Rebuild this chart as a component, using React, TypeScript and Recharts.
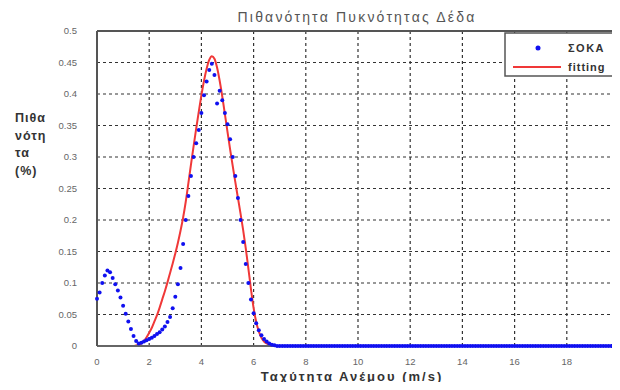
import React from 'react';
import { ComposedChart, Line, XAxis, YAxis, CartesianGrid, ReferenceLine } from 'recharts';

const title = 'Πιθανότητα Πυκνότητας Δέδα';
const xLabel = 'Ταχύτητα Ανέμου (m/s)';
const yLabelLines = ['Πιθα', 'νότη', 'τα', '(%)'];
const legendNames = ['ΣΟΚΑ', 'fitting'];

const xTicks = [0, 2, 4, 6, 8, 10, 12, 14, 16, 18, 20];
const yTicks = [0, 0.05, 0.1, 0.15, 0.2, 0.25, 0.3, 0.35, 0.4, 0.45, 0.5];

// measured wind-speed density, bins of 0.1 m/s from 0 to 20
const measured = [
  0.075, 0.085, 0.1, 0.112, 0.12, 0.117, 0.108, 0.098, 0.088, 0.077,
  0.064, 0.051, 0.039, 0.027, 0.016, 0.008, 0.004, 0.005, 0.007, 0.009,
  0.011, 0.013, 0.016, 0.019, 0.022, 0.026, 0.031, 0.038, 0.046, 0.06,
  0.078, 0.098, 0.124, 0.162, 0.2, 0.238, 0.27, 0.3, 0.322, 0.343,
  0.37, 0.398, 0.42, 0.438, 0.448, 0.43, 0.385, 0.405, 0.39, 0.37,
  0.352, 0.328, 0.3, 0.27, 0.235, 0.2, 0.165, 0.13, 0.1, 0.074,
  0.052, 0.036, 0.025, 0.017, 0.011, 0.007, 0.004, 0.002, 0.001, 0,
  0, 0, 0, 0, 0, 0, 0, 0, 0, 0,
  0, 0, 0, 0, 0, 0, 0, 0, 0, 0,
  0, 0, 0, 0, 0, 0, 0, 0, 0, 0,
  0, 0, 0, 0, 0, 0, 0, 0, 0, 0,
  0, 0, 0, 0, 0, 0, 0, 0, 0, 0,
  0, 0, 0, 0, 0, 0, 0, 0, 0, 0,
  0, 0, 0, 0, 0, 0, 0, 0, 0, 0,
  0, 0, 0, 0, 0, 0, 0, 0, 0, 0,
  0, 0, 0, 0, 0, 0, 0, 0, 0, 0,
  0, 0, 0, 0, 0, 0, 0, 0, 0, 0,
  0, 0, 0, 0, 0, 0, 0, 0, 0, 0,
  0, 0, 0, 0, 0, 0, 0, 0, 0, 0,
  0, 0, 0, 0, 0, 0, 0, 0, 0, 0,
  0,
];

// fitted density on the same bins
const fitted = [
  0, 0, 0, 0, 0, 0, 0, 0, 0, 0,
  0, 0, 0, 0, 0, 0.001, 0.002, 0.004, 0.008, 0.014,
  0.021, 0.029, 0.039, 0.049, 0.061, 0.074, 0.087, 0.101, 0.116, 0.131,
  0.147, 0.164, 0.183, 0.204, 0.229, 0.258, 0.288, 0.317, 0.345, 0.372,
  0.398, 0.421, 0.44, 0.454, 0.46, 0.456, 0.442, 0.421, 0.396, 0.368,
  0.34, 0.312, 0.286, 0.26, 0.235, 0.21, 0.184, 0.155, 0.123, 0.09,
  0.06, 0.038, 0.023, 0.013, 0.007, 0.004, 0.002, 0.001, 0, 0,
  0, 0, 0, 0, 0, 0, 0, 0, 0, 0,
  0, 0, 0, 0, 0, 0, 0, 0, 0, 0,
  0, 0, 0, 0, 0, 0, 0, 0, 0, 0,
  0, 0, 0, 0, 0, 0, 0, 0, 0, 0,
  0, 0, 0, 0, 0, 0, 0, 0, 0, 0,
  0, 0, 0, 0, 0, 0, 0, 0, 0, 0,
  0, 0, 0, 0, 0, 0, 0, 0, 0, 0,
  0, 0, 0, 0, 0, 0, 0, 0, 0, 0,
  0, 0, 0, 0, 0, 0, 0, 0, 0, 0,
  0, 0, 0, 0, 0, 0, 0, 0, 0, 0,
  0, 0, 0, 0, 0, 0, 0, 0, 0, 0,
  0, 0, 0, 0, 0, 0, 0, 0, 0, 0,
  0, 0, 0, 0, 0, 0, 0, 0, 0, 0,
  0,
];

const speeds = measured.map((_, i) => i / 10);
const data = speeds.map((x, i) => ({ x, measured: measured[i], fitted: fitted[i] }));

const FONT = '"Liberation Sans", Arial, Helvetica, sans-serif';
const BLUE = '#1010f0';
const RED = '#f03838';

export default function App() {
  return (
    <div style={{ margin: -8, width: 620, height: 390, overflow: 'hidden', position: 'relative', background: '#fff', fontFamily: FONT }}>
      <ComposedChart width={640} height={390} data={data} margin={{ top: 31, right: 21, bottom: 0, left: 0 }}>
        <CartesianGrid stroke="#333" strokeDasharray="3 3" strokeWidth={1.2} />
        <XAxis
          dataKey="x"
          type="number"
          domain={[0, 20]}
          ticks={xTicks}
          interval={0}
          height={44}
          tickLine={false}
          tickMargin={6}
          axisLine={{ stroke: '#666', strokeWidth: 2 }}
          tick={{ fontSize: 9.5, fill: '#666', fontFamily: FONT }}
        />
        <YAxis
          type="number"
          domain={[0, 0.5]}
          ticks={yTicks}
          interval={0}
          width={97}
          tickLine={false}
          tickMargin={14}
          axisLine={{ stroke: '#555', strokeWidth: 2 }}
          tick={{ fontSize: 9.5, fill: '#666', fontFamily: FONT }}
        />
        <ReferenceLine y={0.5} stroke="#555" strokeWidth={2} />
        <ReferenceLine x={20} stroke="#555" strokeWidth={2} />
        <Line
          dataKey="fitted"
          type="monotone"
          stroke={RED}
          strokeWidth={2}
          dot={false}
          activeDot={false}
          isAnimationActive={false}
        />
        <Line
          dataKey="measured"
          stroke="none"
          dot={{ r: 2, fill: BLUE, stroke: 'none' }}
          activeDot={false}
          isAnimationActive={false}
        />
      </ComposedChart>

      <svg width={620} height={390} style={{ position: 'absolute', left: 0, top: 0, pointerEvents: 'none' }}>
        <text x={357} y={22} textAnchor="middle" fontSize={14} letterSpacing={2.2} fill="#555" fontFamily={FONT}>
          {title}
        </text>
        <text x={352} y={381} textAnchor="middle" fontSize={13} fontWeight="bold" letterSpacing={2} fill="#333" fontFamily={FONT}>
          {xLabel}
        </text>
        {yLabelLines.map((l, i) => (
          <text key={l} x={15} y={122 + i * 17.5} fontSize={12.5} fontWeight="bold" letterSpacing={1} fill="#333" fontFamily={FONT}>
            {l}
          </text>
        ))}
        <rect x={505} y={33} width={113} height={43} fill="#fff" stroke="#555" strokeWidth={1.5} />
        <circle cx={538} cy={48} r={2.5} fill={BLUE} />
        <line x1={513} y1={67} x2={561} y2={67} stroke={RED} strokeWidth={2} />
        <text x={568} y={52} fontSize={11} fontWeight="bold" letterSpacing={1.5} fill="#333" fontFamily={FONT}>{legendNames[0]}</text>
        <text x={568} y={71} fontSize={11} fontWeight="bold" letterSpacing={1} fill="#333" fontFamily={FONT}>{legendNames[1]}</text>
      </svg>
    </div>
  );
}
